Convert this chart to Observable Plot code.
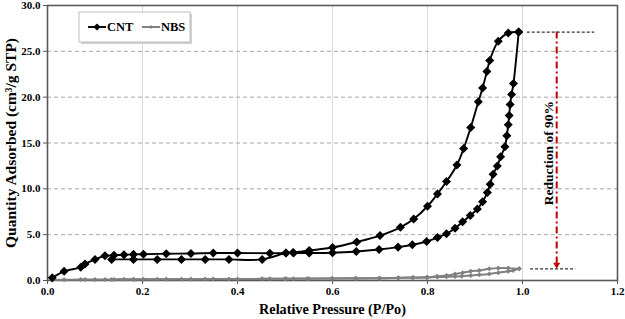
<!DOCTYPE html>
<html>
<head>
<meta charset="utf-8">
<script src="https://cdn.jsdelivr.net/npm/d3@7"></script>
<script src="https://cdn.jsdelivr.net/npm/@observablehq/plot@0.6"></script>
<style>
  html, body { margin: 0; padding: 0; background: #fff; }
  #chart { position: relative; width: 625px; height: 319px; }
  #chart svg text { font-family: 'Liberation Serif', 'Times New Roman', serif; }
</style>
</head>
<body>
<div id="chart"></div>
<script>
// ---- data ----
const cntAdsP = [0.010, 0.035, 0.070, 0.079, 0.100, 0.121, 0.140, 0.161, 0.181, 0.202, 0.250, 0.302, 0.349, 0.400, 0.468, 0.502, 0.518, 0.551, 0.600, 0.650, 0.698, 0.738, 0.768, 0.798, 0.821, 0.840, 0.858, 0.874, 0.890, 0.905, 0.916, 0.926, 0.932, 0.938, 0.947, 0.954, 0.963, 0.967, 0.970, 0.972, 0.974, 0.977, 0.981, 0.992];
const cntAdsV = [0.30, 1.00, 1.45, 1.80, 2.30, 2.70, 2.75, 2.80, 2.85, 2.87, 2.92, 2.95, 3.00, 3.00, 2.98, 3.00, 3.00, 3.00, 3.02, 3.16, 3.38, 3.64, 3.90, 4.25, 4.70, 5.10, 5.70, 6.40, 7.10, 7.80, 8.60, 9.60, 10.5, 11.6, 12.5, 13.5, 14.6, 15.8, 17.0, 18.0, 19.2, 20.3, 21.5, 27.1];
const cntDesP = [0.992, 0.970, 0.949, 0.931, 0.925, 0.916, 0.907, 0.891, 0.876, 0.862, 0.840, 0.821, 0.800, 0.771, 0.743, 0.700, 0.651, 0.600, 0.551, 0.517, 0.502, 0.452, 0.382, 0.332, 0.282, 0.231, 0.181, 0.135];
const cntDesV = [27.1, 27.0, 26.1, 24.0, 22.8, 21.0, 19.5, 16.7, 14.4, 12.6, 10.8, 9.45, 8.1, 6.7, 5.8, 4.9, 4.2, 3.6, 3.27, 3.05, 3.0, 2.3, 2.3, 2.3, 2.3, 2.3, 2.3, 2.3];

const nbsAdsP = [0.010, 0.035, 0.070, 0.079, 0.100, 0.121, 0.140, 0.161, 0.181, 0.202, 0.250, 0.302, 0.349, 0.400, 0.468, 0.502, 0.518, 0.551, 0.600, 0.650, 0.698, 0.738, 0.768, 0.798, 0.821, 0.840, 0.858, 0.872, 0.891, 0.909, 0.930, 0.949, 0.970, 0.980, 0.993];
const nbsAdsV = [0.05, 0.08, 0.10, 0.10, 0.11, 0.12, 0.12, 0.13, 0.13, 0.14, 0.15, 0.15, 0.16, 0.17, 0.18, 0.18, 0.19, 0.20, 0.21, 0.22, 0.24, 0.27, 0.30, 0.33, 0.37, 0.40, 0.44, 0.47, 0.55, 0.62, 0.72, 0.85, 1.00, 1.10, 1.27];
const nbsDesP = [0.993, 0.970, 0.949, 0.930, 0.909, 0.891, 0.874, 0.858, 0.840, 0.820, 0.800, 0.770, 0.739, 0.700, 0.648, 0.599, 0.547, 0.500, 0.452, 0.382, 0.332, 0.282, 0.231, 0.181, 0.135];
const nbsDesV = [1.27, 1.35, 1.35, 1.27, 1.10, 1.00, 0.85, 0.70, 0.55, 0.47, 0.35, 0.33, 0.30, 0.25, 0.24, 0.23, 0.22, 0.20, 0.18, 0.16, 0.15, 0.14, 0.13, 0.12, 0.12];

const xTicks = [0.0, 0.2, 0.4, 0.6, 0.8, 1.0, 1.2];
const yTicks = [0, 5, 10, 15, 20, 25, 30];
const seriesNames = ["CNT", "NBS"];
const seriesColors = ["#000000", "#808080"];

// annotation (reduction arrow between the two maxima)
const annotText = "Reduction of 90%";
const annotArrowX = [1.072];
const annotTop = [27.1];
const annotBottom = [1.27];
const annotTopSpan = [1.01, 1.152];
const annotBottomSpan = [1.017, 1.112];
const annotTextPos = [1.055, 13.9];

const toRows = (P, V) => P.map((p, i) => ({p, v: V[i]}));
const cntAds = toRows(cntAdsP, cntAdsV);
const cntDes = toRows(cntDesP, cntDesV);
const nbsAds = toRows(nbsAdsP, nbsAdsV);
const nbsDes = toRows(nbsDesP, nbsDesV);

const serif = "'Liberation Serif', 'Times New Roman', serif";

const plot = Plot.plot({
  width: 625,
  height: 319,
  marginLeft: 47,
  marginRight: 8,
  marginTop: 5,
  marginBottom: 39,
  style: {fontFamily: serif, fontSize: "11px", fontWeight: "bold", color: "#000", background: "#fff", overflow: "visible"},
  x: {domain: [0, 1.2]},
  y: {domain: [0, 30]},
  marks: [
    Plot.gridX(xTicks.slice(1, -1), {stroke: "#d9d9d9", strokeOpacity: 1, strokeWidth: 1}),
    Plot.gridY(yTicks.slice(1, -1), {stroke: "#a6a6a6", strokeOpacity: 1, strokeDasharray: "4,3", strokeWidth: 1}),
    Plot.axisX(xTicks, {tickSize: 4, tickPadding: 3, tickFormat: d => d.toFixed(1), label: null, stroke: "#595959", fontSize: 11, fontWeight: "bold"}),
    Plot.axisY(yTicks, {tickSize: 4, tickPadding: 3, tickFormat: d => d.toFixed(1), label: null, stroke: "#595959", fontSize: 11, fontWeight: "bold"}),
    Plot.frame({stroke: "#595959", strokeWidth: 1.6}),
    // NBS
    Plot.line(nbsAds, {x: "p", y: "v", stroke: seriesColors[1], strokeWidth: 2, curve: "catmull-rom"}),
    Plot.line(nbsDes, {x: "p", y: "v", stroke: seriesColors[1], strokeWidth: 2, curve: "catmull-rom"}),
    Plot.dot(nbsAds.concat(nbsDes), {x: "p", y: "v", symbol: "square", rotate: 45, r: 2.0, fill: seriesColors[1], stroke: "none"}),
    // CNT
    Plot.line(cntAds, {x: "p", y: "v", stroke: seriesColors[0], strokeWidth: 1.9, curve: "catmull-rom"}),
    Plot.line(cntDes, {x: "p", y: "v", stroke: seriesColors[0], strokeWidth: 1.9, curve: "catmull-rom"}),
    Plot.dot(cntAds.concat(cntDes), {x: "p", y: "v", symbol: "square", rotate: 45, r: 3.6, fill: seriesColors[0], stroke: "none"}),
    // annotation
    Plot.ruleY(annotTop, {x1: annotTopSpan[0], x2: annotTopSpan[1], stroke: "#333", strokeWidth: 1.2, strokeDasharray: "3,2"}),
    Plot.ruleY(annotBottom, {x1: annotBottomSpan[0], x2: annotBottomSpan[1], stroke: "#333", strokeWidth: 1.2, strokeDasharray: "3,2"}),
    Plot.ruleX(annotArrowX, {y1: annotTop[0], y2: annotBottom[0] + 0.5, stroke: "#c00000", strokeWidth: 2, strokeDasharray: "7,3,2,3"}),
    Plot.dot(annotArrowX, {x: d => d, y: annotBottom[0] + 0.45, symbol: "triangle", rotate: 180, r: 2.6, fill: "#c00000", stroke: "none"}),
    Plot.text([annotText], {x: annotTextPos[0], y: annotTextPos[1], rotate: -90, textAnchor: "middle", fontSize: 13.5, fontWeight: "bold", fill: "#000"}),
    // axis titles
    Plot.text(["Relative Pressure (P/Po)"], {frameAnchor: "bottom", dy: 29, lineAnchor: "middle", textAnchor: "middle", fontSize: 14.2, fontWeight: "bold", fill: "#000"}),
    Plot.text(["Quantity Adsorbed (cm³/g STP)"], {frameAnchor: "left", dx: -36, rotate: -90, textAnchor: "middle", lineAnchor: "middle", fontSize: 15.5, fontWeight: "bold", fill: "#000"})
  ]
});

document.getElementById("chart").appendChild(plot);

// legend inside plot area (top-left)
const svg = d3.select(plot);
const lg = svg.append("g").attr("font-family", serif).attr("font-weight", "bold").attr("font-size", 12.5).attr("text-anchor", "start");
lg.append("rect").attr("x", 81).attr("y", 14).attr("width", 111).attr("height", 30).attr("fill", "#d0d0d0");
lg.append("rect").attr("x", 79).attr("y", 12).attr("width", 111).attr("height", 30).attr("fill", "#fff").attr("stroke", "#bfbfbf").attr("stroke-width", 1);
const legendItems = [
  {name: seriesNames[0], color: seriesColors[0], x0: 88, r: 3.6, w: 1.9},
  {name: seriesNames[1], color: seriesColors[1], x0: 142, r: 1.9, w: 2}
];
legendItems.forEach(it => {
  lg.append("line").attr("x1", it.x0).attr("x2", it.x0 + 18).attr("y1", 27).attr("y2", 27).attr("stroke", it.color).attr("stroke-width", it.w);
  const cx = it.x0 + 9, cy = 27;
  lg.append("path").attr("d", `M${cx},${cy - it.r}L${cx + it.r},${cy}L${cx},${cy + it.r}L${cx - it.r},${cy}Z`).attr("fill", it.color);
  lg.append("text").attr("x", it.x0 + 19).attr("y", 31).attr("text-anchor", "start").attr("fill", "#000").text(it.name);
});
</script>
</body>
</html>
